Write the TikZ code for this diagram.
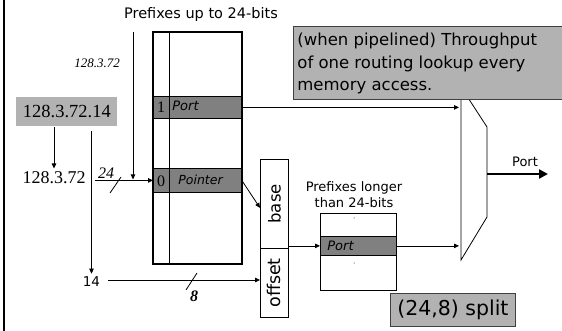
\documentclass[tikz,border=0pt]{standalone}
\usepackage{fontspec}
\setmainfont{Liberation Serif}
\setsansfont{DejaVu Sans}
\usetikzlibrary{arrows.meta,calc}
\definecolor{rowgray}{HTML}{808080}
\definecolor{boxgray}{HTML}{B2B2B2}
\begin{document}
\begin{tikzpicture}[x=1pt,y=-1pt, line width=0.8pt,
  >={Triangle[length=5pt,width=4.5pt]},
  cell/.style={draw, inner sep=0pt, anchor=north west},
  rowbox/.style={cell, fill=rowgray},
  graybox/.style={draw=black!75, fill=boxgray, inner sep=0pt, anchor=north west},
  sanslbl/.style={font=\sffamily\fontsize{#1}{#1}\selectfont, inner sep=0pt},
  sansit/.style={font=\sffamily\itshape\fontsize{#1}{#1}\selectfont, inner sep=0pt},
  seriflbl/.style={font=\rmfamily\fontsize{#1}{#1}\selectfont, inner sep=0pt},
  serifit/.style={font=\rmfamily\itshape\fontsize{#1}{#1}\selectfont, inner sep=0pt},
  slashmark/.style={line width=0.8pt}]
\useasboundingbox (0,0) rectangle (562,331);
\fill[white] (0,0) rectangle (562,331);
\draw[line width=2pt] (3.5,0) -- (3.5,331);

% mux
\coordinate (m1) at (461,87);
\coordinate (m2) at (487,127);
\coordinate (m3) at (487,217);
\coordinate (m4) at (461,260);
\draw (m1) -- (m2) -- (m3) -- (m4) -- cycle;

% main table
\node[sanslbl=14.5] (title) at (201,15) {Prefixes up to 24-bits};
\node[cell, minimum width=88, minimum height=231] (tbl) at (153,32) {};
\node[rowbox, minimum width=88, minimum height=22] (portrow) at (153,96) {};
\node[rowbox, minimum width=88, minimum height=24] (ptrrow) at (153,168) {};
\draw[line width=2pt] (tbl.north west) rectangle (tbl.south east);
\coordinate (div) at (169,32);
\draw (div) -- (div |- tbl.south);
\node[seriflbl=16] (one) at (161,107.5) {1};
\node[sansit=13, anchor=west] (porttxt) at (172,106) {Port};
\node[seriflbl=16] (zero) at (161,181) {0};
\node[sansit=12.5, anchor=west] (ptrtxt) at (178,180) {Pointer};

% address
\node[graybox, draw=none, minimum width=101, minimum height=29] (addr) at (16,97) {};
\node[seriflbl=18.5] (addrtxt) at (addr.center) {128.3.72.14};
\node[seriflbl=18] (a24) at (54,178) {128.3.72};
\node[sanslbl=13.5] (n14) at (91.5,282) {14};
\node[serifit=13] (pfx) at (97,63) {128.3.72};
\node[serifit=16] (l24) at (106,173) {24};
\node[font=\rmfamily\bfseries\itshape\fontsize{16}{16}\selectfont, inner sep=0pt] (l8) at (194,296) {8};

\draw[->] (addr.south -| a24.north) -- ($(a24.north)+(0,-3)$);
\draw[->] ($(addr.south -| n14.north)+(0,4)$) -- ($(n14.north)+(0,-3)$);
\draw[->] (95,0 |- ptrrow.west) coordinate (s24) -- (ptrrow.west);
\coordinate (ptop) at (133,32);
\draw[->] (ptop) -- ($(ptop |- ptrrow.west)+(0,-1)$);
\draw[slashmark] (110,193) -- (121,177);

% base / offset
\node[cell, minimum width=28, minimum height=89] (base) at (260,159) {};
\node[cell, minimum width=28, minimum height=69] (offset) at (260,248) {};
\node[sanslbl=16.5, rotate=90] at (base.center) {base};
\node[sanslbl=17.5, rotate=90] at (offset.center) {offset};
\draw[->] (ptrrow.east) -- ($(base.west)+(0,4)$);
\draw[->] ($(n14.east)+(8,-2)$) -- (offset.west |- 0,280);
\draw[slashmark] (186,290) -- (197,273);

% second table
\node[align=center, inner sep=0pt, font=\sffamily\fontsize{13}{16}\selectfont] (title2) at (354,195) {Prefixes longer\\than 24-bits};
\node[cell, minimum width=76, minimum height=77] (ltbl) at (320,213) {};
\node[rowbox, minimum width=76, minimum height=19] (lport) at (320,236) {};
\node[sansit=13, anchor=west] at (327,246) {Port};
\fill (354,218) circle (0.5);
\fill (354,263) circle (0.5);
\draw[->] (base.east |- lport.west) -- (lport.west);
\draw[->] (lport.east) -- ($(lport.east -| m1)+(-2,0)$);
\draw[->] (portrow.east) -- ($(portrow.east -| m1)+(-2,0)$);

% output
\coordinate (out) at (548,174);
\draw[line width=2.5pt, -{Triangle[length=9pt,width=9pt]}] (487,174) -- (out);
\node[sanslbl=13] (outlbl) at (525,162) {Port};

% notes
\node[graybox, minimum width=272, minimum height=73] (note) at (293,26) {};
\node[anchor=north west, align=left, inner sep=0pt, font=\sffamily\fontsize{16.5}{22.5}\selectfont] at (297,33) {(when pipelined) Throughput\\of one routing lookup every\\memory access.};
\node[graybox, minimum width=125, minimum height=33] (split) at (390,293) {};
\node[sanslbl=20.5] at (split.center) {(24,8) split};
\end{tikzpicture}
\end{document}
